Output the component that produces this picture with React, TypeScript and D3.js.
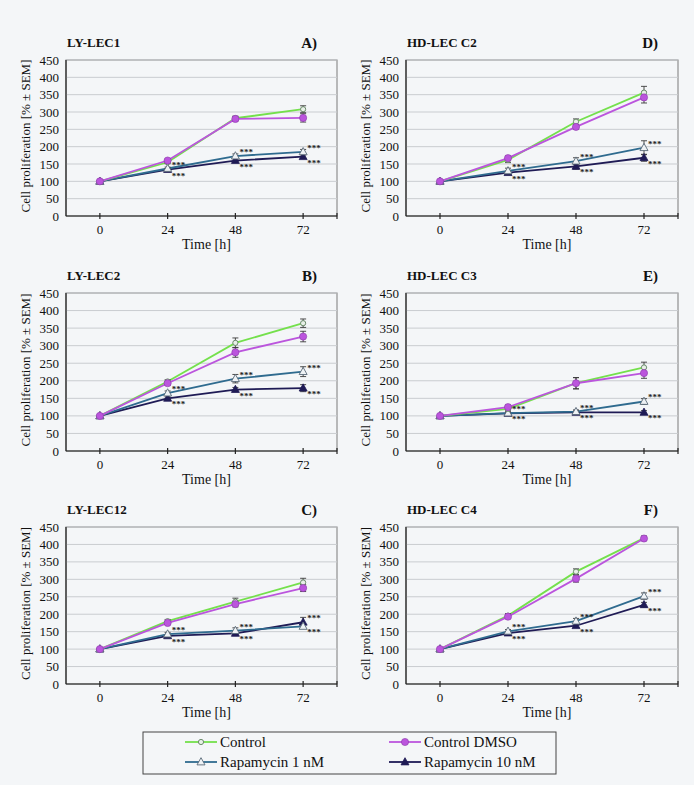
import React from "react";
import * as d3 from "d3";

const times = ["0", "24", "48", "72"];
const yTicks = [0, 50, 100, 150, 200, 250, 300, 350, 400, 450];
const panelNames = ["LY-LEC1", "LY-LEC2", "LY-LEC12", "HD-LEC C2", "HD-LEC C3", "HD-LEC C4"];
const panelLetters = ["A)", "B)", "C)", "D)", "E)", "F)"];
const seriesNames = ["Control", "Control DMSO", "Rapamycin 1 nM", "Rapamycin 10 nM"];

const controlVals = [
  [100, 155, 282, 308],
  [100, 198, 308, 364],
  [100, 180, 236, 291],
  [100, 162, 272, 356],
  [100, 120, 193, 238],
  [100, 196, 322, 418],
];
const dmsoVals = [
  [100, 160, 280, 283],
  [100, 193, 281, 326],
  [100, 175, 229, 275],
  [100, 167, 257, 342],
  [100, 125, 193, 222],
  [100, 193, 302, 417],
];
const rap1Vals = [
  [100, 137, 173, 185],
  [100, 165, 206, 226],
  [100, 143, 153, 165],
  [100, 130, 158, 197],
  [100, 108, 112, 141],
  [100, 151, 180, 252],
];
const rap10Vals = [
  [100, 134, 160, 171],
  [100, 150, 175, 179],
  [100, 138, 145, 177],
  [100, 125, 143, 168],
  [100, 107, 110, 110],
  [100, 146, 167, 227],
];
const controlErr = [
  [2, 4, 6, 10], [2, 5, 14, 12], [2, 5, 10, 12], [2, 8, 8, 18], [2, 4, 16, 15], [2, 6, 8, 6],
];
const dmsoErr = [
  [2, 4, 6, 12], [2, 5, 14, 15], [2, 4, 8, 10], [2, 6, 6, 16], [2, 6, 16, 15], [2, 5, 10, 6],
];
const rap1Err = [
  [2, 4, 6, 7], [2, 6, 12, 14], [2, 5, 8, 6], [2, 8, 10, 20], [2, 4, 5, 8], [2, 5, 8, 9],
];
const rap10Err = [
  [2, 3, 4, 5], [2, 4, 6, 10], [2, 4, 5, 14], [2, 5, 8, 10], [2, 3, 4, 5], [2, 4, 5, 7],
];

const colors = ["#74e04c", "#bb55dd", "#2f6b8f", "#1f1b55"];
const FONT = "Liberation Serif";
const fontStyle = { fontFamily: '"Liberation Serif", "Times New Roman", Times, serif' };

const colX = [[66, 337], [406, 678]];
const rowY = [[60, 216], [293, 451], [527, 684]];

function triPath(cx: number, cy: number, s: number) {
  const h = s * 0.9;
  return `M${cx},${cy - h * 0.6}L${cx + s / 2},${cy + h * 0.4}L${cx - s / 2},${cy + h * 0.4}Z`;
}

function Marker({ kind, cx, cy }: { kind: number; cx: number; cy: number }) {
  if (kind === 0)
    return <circle cx={cx} cy={cy} r={2.6} fill="#e8f0e8" stroke="#6a8a6a" strokeWidth={1} />;
  if (kind === 1) return <circle cx={cx} cy={cy} r={3.6} fill={colors[1]} stroke="#8a3aa8" strokeWidth={0.6} />;
  if (kind === 2) return <path d={triPath(cx, cy, 8)} fill="#eef2f5" stroke="#5a6a78" strokeWidth={0.9} />;
  return <path d={triPath(cx, cy, 8)} fill={colors[3]} stroke={colors[3]} strokeWidth={0.8} />;
}

function Panel({ idx }: { idx: number }) {
  const col = idx < 3 ? 0 : 1;
  const row = idx % 3;
  const [x0, x1] = colX[col];
  const [y0, y1] = rowY[row];
  const x = d3.scaleBand<string>().domain(times).range([x0, x1]);
  const y = d3.scaleLinear().domain([0, 450]).range([y1, y0]);
  const cx = (t: string) => (x(t) as number) + x.bandwidth() / 2;
  const vals = [controlVals[idx], dmsoVals[idx], rap1Vals[idx], rap10Vals[idx]];
  const errs = [controlErr[idx], dmsoErr[idx], rap1Err[idx], rap10Err[idx]];
  const line = d3
    .line<number>()
    .x((_, i) => cx(times[i]))
    .y((v) => y(v));
  const drawOrder = [3, 2, 0, 1];
  const midX = (x0 + x1) / 2;
  return (
    <g fontFamily={FONT} style={fontStyle}>
      <rect x={x0} y={y0} width={x1 - x0} height={y1 - y0} fill="#f4f6f8" stroke="#7a7a7a" strokeWidth={1} />
      {yTicks.slice(1).map((t) => (
        <line key={t} x1={x0} x2={x1} y1={y(t)} y2={y(t)} stroke="#c9ccd0" strokeWidth={1} />
      ))}
      <line x1={x0} x2={x0} y1={y0} y2={y1} stroke="#222" strokeWidth={1.2} />
      <line x1={x0} x2={x1} y1={y1} y2={y1} stroke="#222" strokeWidth={1.2} />
      {times.map((t) => (
        <line key={t} x1={cx(t)} x2={cx(t)} y1={y1 - 3} y2={y1 + 3} stroke="#222" strokeWidth={1.2} />
      ))}
      <line x1={x1} x2={x1} y1={y1 - 3} y2={y1 + 3} stroke="#222" strokeWidth={1.2} />
      {yTicks.map((t) => (
        <text key={t} x={x0 - 7} y={y(t) + 4.5} fontSize={13} textAnchor="end" fill="#111">
          {t}
        </text>
      ))}
      {times.map((t) => (
        <text key={t} x={cx(t)} y={y1 + 18} fontSize={13} textAnchor="middle" fill="#111">
          {t}
        </text>
      ))}
      <text x={midX + 5} y={y1 + 33} fontSize={14} textAnchor="middle" fill="#111">
        Time [h]
      </text>
      <text
        transform={`translate(${x0 - 36},${(y0 + y1) / 2 - 2}) rotate(-90)`}
        fontSize={13}
        textAnchor="middle"
        fill="#111"
      >
        Cell proliferation  [% ± SEM]
      </text>
      <text x={x0 + 1} y={y0 - 13} fontSize={13} fontWeight="bold" fill="#111">
        {panelNames[idx]}
      </text>
      <text x={x1 - 20} y={y0 - 12} fontSize={15} fontWeight="bold" textAnchor="end" fill="#111">
        {panelLetters[idx]}
      </text>
      {drawOrder.map((s) => (
        <path key={"l" + s} d={line(vals[s]) || ""} fill="none" stroke={colors[s]} strokeWidth={1.8} />
      ))}
      {drawOrder.map((s) =>
        vals[s].map((v, i) => {
          const px = cx(times[i]);
          const e = errs[s][i];
          return (
            <g key={"e" + s + "-" + i} stroke="#3a3a3a" strokeWidth={0.9}>
              <line x1={px} x2={px} y1={y(v - e)} y2={y(v + e)} />
              <line x1={px - 3} x2={px + 3} y1={y(v - e)} y2={y(v - e)} />
              <line x1={px - 3} x2={px + 3} y1={y(v + e)} y2={y(v + e)} />
            </g>
          );
        })
      )}
      {drawOrder.map((s) =>
        vals[s].map((v, i) => <Marker key={"m" + s + "-" + i} kind={s} cx={cx(times[i])} cy={y(v)} />)
      )}
      {times.slice(1).map((t, k) => {
        const i = k + 1;
        const a = rap1Vals[idx][i];
        const b = rap10Vals[idx][i];
        const upper = a >= b ? a : b;
        const lower = a >= b ? b : a;
        const px = cx(t);
        return (
          <g key={"s" + t} fontSize={9} fontWeight="bold" fill="#222">
            <text x={px + 4} y={y(upper) - 1}>***</text>
            <text x={px + 4} y={y(lower) + 9}>***</text>
          </g>
        );
      })}
    </g>
  );
}

function Legend() {
  const items = [
    { s: 0, lx: 185, ly: 742 },
    { s: 1, lx: 389, ly: 742 },
    { s: 2, lx: 185, ly: 762 },
    { s: 3, lx: 389, ly: 762 },
  ];
  return (
    <g fontFamily={FONT} style={fontStyle}>
      <rect x={143} y={732} width={413} height={42} fill="none" stroke="#444" strokeWidth={1} />
      {items.map(({ s, lx, ly }) => (
        <g key={s}>
          <line x1={lx} x2={lx + 32} y1={ly} y2={ly} stroke={colors[s]} strokeWidth={1.8} />
          <Marker kind={s} cx={lx + 16} cy={ly} />
          <text x={lx + 35} y={ly + 5} fontSize={15} fill="#111">
            {seriesNames[s]}
          </text>
        </g>
      ))}
    </g>
  );
}

export default function App() {
  return (
    <svg
      width={694}
      height={785}
      style={{ position: "absolute", left: 0, top: 0, display: "block" }}
    >
      <rect x={0} y={0} width={694} height={785} fill="#f4f6f8" />
      {[0, 1, 2, 3, 4, 5].map((i) => (
        <Panel key={i} idx={i} />
      ))}
      <Legend />
    </svg>
  );
}
